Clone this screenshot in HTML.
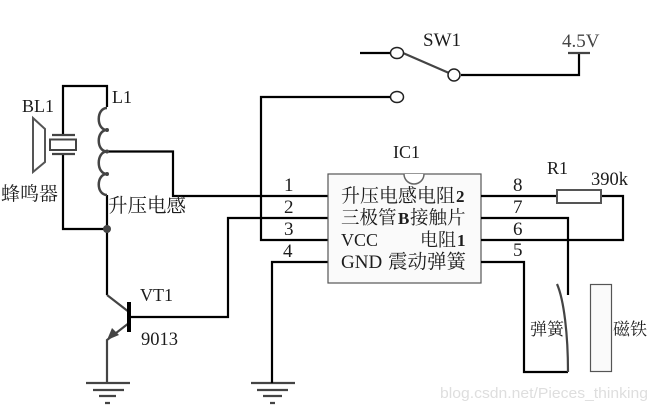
<!DOCTYPE html>
<html><head><meta charset="utf-8"><style>
html,body{margin:0;padding:0;background:#fff;width:657px;height:410px;overflow:hidden}
svg{display:block}
text{font-family:"Liberation Serif","Noto Serif CJK SC",serif;fill:#1c1c1c;font-size:18px}
.c{font-family:"Liberation Serif","Noto Serif CJK SC",serif;font-size:19px}
.w{fill:none;stroke:#000;stroke-width:2.200}
.g{fill:none;stroke:#444;stroke-width:2.200}
</style></head><body>
<svg width="657" height="410" viewBox="0 0 657 410" xmlns="http://www.w3.org/2000/svg">
<rect width="657" height="410" fill="#fff"/>
<!-- left wires -->
<path class="w" d="M107 107V86H63V135M63 154V229H107M107 195V295M107 151.500H173V196H328"/>
<path class="g" d="M107 108C96 108 96 130 107 130C96 130 96 151.500 107 151.500C96 151.500 96 174 107 174C96 174 96 195 107 195" style="stroke-width:2.500"/>
<circle cx="107" cy="130" r="2" fill="#444"/><circle cx="107" cy="151.500" r="2" fill="#444"/><circle cx="107" cy="174" r="2" fill="#444"/>
<circle cx="107" cy="229" r="4" fill="#444"/>
<!-- buzzer -->
<path class="g" d="M52 135H75M52 154H75"/>
<rect x="50" y="139.500" width="26" height="10.500" fill="#fff" stroke="#444" stroke-width="2"/>
<path d="M33 118L45 129V162L33 172Z" fill="#fff" stroke="#555" stroke-width="2"/>
<!-- transistor -->
<path class="g" d="M107 295L129 312M129 323L107 340V383"/>
<path d="M107 340L119 335L112 328Z" fill="#444"/>
<rect x="127" y="302" width="4" height="30" fill="#000"/>
<path class="w" d="M130 317H228V218H328"/>
<!-- grounds -->
<path class="g" d="M86 383H130M93 390H124M99 396H116M105 403H110"/>
<path class="g" d="M251 383H295M257 390H288M263 396H282M270 403H275"/>
<path class="w" d="M328 262H272V383"/>
<!-- switch -->
<path class="w" d="M360 53H390M461 75H579V53"/>
<path class="g" d="M403 53L449 73M568 53H590"/>
<ellipse cx="397" cy="53" rx="6.500" ry="5.500" fill="#fff" stroke="#222" stroke-width="1.500"/>
<ellipse cx="454" cy="75" rx="6" ry="6" fill="#fff" stroke="#222" stroke-width="1.500"/>
<ellipse cx="397" cy="97" rx="6.500" ry="5.500" fill="#fff" stroke="#222" stroke-width="1.500"/>
<path class="w" d="M390 97H261V240H328"/>
<!-- IC -->
<rect x="328" y="174" width="153" height="109" fill="#fafafa" stroke="#555" stroke-width="1.200"/>
<path d="M404 174A10 10 0 0 0 424 174" fill="#fff" stroke="#666" stroke-width="1.500"/>
<!-- right wires -->
<path class="w" d="M481 196H557M601 196H623V240H481M481 218H568V295M481 262H524V372H568"/>
<rect x="557" y="190" width="44" height="13" fill="#fff" stroke="#555" stroke-width="2"/>
<path class="g" d="M557 284C564 300 568 335 568 372"/>
<rect x="590.500" y="284.500" width="21" height="87" fill="#fafafa" stroke="#555" stroke-width="1.200"/>
<!-- labels -->
<text x="22" y="112">BL1</text>
<text x="112" y="103">L1</text>
<text class="c" x="1" y="200">蜂鸣器</text>
<text class="c" x="108" y="212" style="font-size:19.500px">升压电感</text>
<text x="140" y="301">VT1</text>
<text x="141" y="345" style="font-size:18.500px">9013</text>
<text x="423" y="46" style="font-size:19px">SW1</text>
<text x="562" y="47" style="font-size:19px;fill:#444">4.5V</text>
<text x="393" y="158">IC1</text>
<text x="547" y="174">R1</text>
<text x="591" y="185" style="font-size:18.500px">390k</text>
<text x="284" y="191" style="font-size:19px">1</text>
<text x="284" y="213" style="font-size:19px">2</text>
<text x="284" y="235" style="font-size:19px">3</text>
<text x="283" y="257" style="font-size:19px">4</text>
<text x="513" y="191" style="font-size:19px">8</text>
<text x="513" y="213" style="font-size:19px">7</text>
<text x="513" y="235" style="font-size:19px">6</text>
<text x="513" y="256" style="font-size:19px">5</text>
<text class="c" x="341" y="202">升压电感电阻</text><text x="456" y="202" style="font-weight:bold;font-size:17px">2</text>
<text class="c" x="341" y="224" style="font-size:18.500px">三极管</text><text x="398" y="224" style="font-size:17px;font-weight:bold">B</text><text class="c" x="410" y="224" style="font-size:18.500px">接触片</text>
<text x="341" y="246">VCC</text>
<text class="c" x="420" y="246" style="font-size:18px">电阻</text><text x="457" y="246" style="font-weight:bold;font-size:17px">1</text>
<text x="341" y="268" style="font-size:19px">GND</text>
<text class="c" x="388" y="268" style="font-size:19.500px">震动弹簧</text>
<text class="c" x="530" y="335" style="font-size:17px">弹簧</text>
<text class="c" x="613" y="335" style="font-size:17px">磁铁</text>
<text x="440" y="398" textLength="208" lengthAdjust="spacingAndGlyphs" style="font-family:'Liberation Sans',sans-serif;font-size:15px;fill:#dedede">blog.csdn.net/Pieces_thinking</text>
</svg>
</body></html>
